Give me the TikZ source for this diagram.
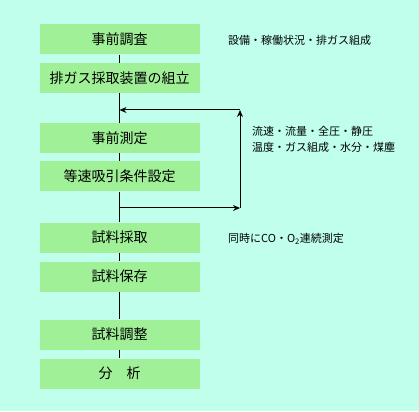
\documentclass[tikz,border=0pt]{standalone}
\usepackage{fontspec}
\setmainfont{Noto Sans CJK JP}
\usetikzlibrary{arrows,arrows.meta,positioning}
\definecolor{bgcyan}{RGB}{192,255,236}
\definecolor{boxgreen}{RGB}{160,240,152}

\begin{document}
\begin{tikzpicture}[x=1pt,y=-1pt,
    box/.style={fill=boxgreen,minimum width=160pt,minimum height=30pt,inner sep=0pt,font=\fontsize{14}{14}\selectfont},
    note/.style={right,inner sep=0pt,font=\fontsize{11}{13}\selectfont},
    link/.style={line width=1pt},
    loop/.style={line width=1pt,-{Stealth[length=7pt,width=6pt]}}]
    \useasboundingbox[fill=bgcyan] (0,0) rectangle (419,411);

    \node[box] (survey) at (119.5,39.5) {事前調査};
    \node[box] (setup) at (119.5,78) {排ガス採取装置の組立};
    \node[box] (premeas) at (119.5,138) {事前測定};
    \node[box] (isokin) at (119.5,176.5) {等速吸引条件設定};
    \node[box] (sampling) at (119.5,237.5) {試料採取};
    \node[box] (storage) at (119.5,276.5) {試料保存};
    \node[box] (prep) at (119.5,334.5) {試料調整};
    \node[box] (analysis) at (119.5,373.5) {分　析};

    \node[note] (note1) at (228,40) {設備・稼働状況・排ガス組成};
    \node[note] (note2) at (252,131) {流速・流量・全圧・静圧};
    \node[note] (note3) at (252,147) {温度・ガス組成・水分・煤塵};
    \node[note] (note4) at (228,239) {同時にCO・O\textsubscript{2}連続測定};

    \coordinate (jtop) at (119.5,110);
    \coordinate (jbot) at (119.5,208);
    \coordinate (ctop) at (240,110);
    \coordinate (cbot) at (240,208);

    \draw[link] (survey) -- (setup);
    \draw[link] (setup) -- (premeas);
    \draw[link] (premeas) -- (isokin);
    \draw[link] (isokin) -- (sampling);
    \draw[link] (sampling) -- (storage);
    \draw[link] (storage) -- (prep);
    \draw[link] (prep) -- (analysis);

    \draw[loop] (jbot) -- (cbot);
    \draw[loop] (cbot) -- (ctop);
    \draw[loop] (ctop) -- (jtop);
\end{tikzpicture}
\end{document}
